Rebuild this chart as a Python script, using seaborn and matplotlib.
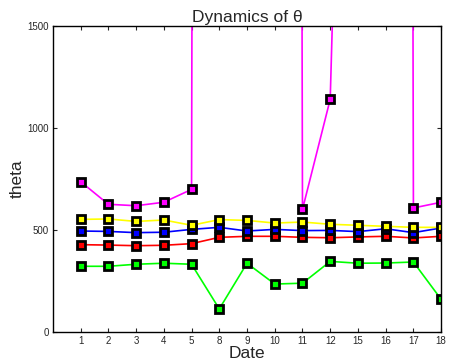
import seaborn as sns
import pandas as pd
import matplotlib.pyplot as plt

sns.set_style("white")
plt.rcParams['font.family'] = ['Liberation Sans', 'DejaVu Sans']

dates = ["1", "2", "3", "4", "5", "8", "9", "10", "11", "12", "15", "16", "17", "18"]

# magenta goes far off the top of the chart on several dates
theta_magenta = [737, 626, 619, 636, 699, 60000, 60000, 60000, 601, 1141, 6000, 60000, 608, 636]
theta_yellow = [552, 554, 542, 549, 523, 551, 547, 534, 539, 528, 523, 518, 513, 513]
theta_blue = [495, 493, 487, 489, 503, 513, 495, 503, 497, 498, 492, 506, 487, 510]
theta_red = [428, 426, 423, 425, 433, 464, 469, 469, 464, 462, 466, 469, 461, 469]
theta_green = [322, 322, 332, 337, 332, 113, 337, 235, 239, 346, 337, 338, 343, 160]

series = [
    (theta_green, "#00ff00"),
    (theta_red, "#ff0000"),
    (theta_blue, "#0000ff"),
    (theta_yellow, "#ffff00"),
    (theta_magenta, "#ff00ff"),
]

pos = list(range(1, len(dates) + 1))

fig = plt.figure(figsize=(4.6, 3.62), dpi=100)
ax = fig.add_axes([0.115, 0.083, 0.844, 0.845])

for vals, col in series:
    df = pd.DataFrame({"x": pos, "y": vals})
    sns.lineplot(data=df, x="x", y="y", color=col, marker="s", markersize=6.0,
                 markeredgecolor="black", markeredgewidth=2.0, linewidth=1.2,
                 ax=ax)

ax.set_xlim(0, 14)
ax.set_ylim(0, 1500)
ax.set_xticks(pos)
ax.set_xticklabels(dates)
ax.set_yticks([0, 500, 1000, 1500])
ax.tick_params(direction="in", length=3, width=0.8, labelsize=7,
               top=True, right=True, bottom=True, left=True, pad=3)
for s in ax.spines.values():
    s.set_color("black")
    s.set_linewidth(1.0)

ax.set_title("Dynamics of θ", fontsize=12.5, pad=3)
ax.set_xlabel("Date", fontsize=12.5, labelpad=0)
ax.set_ylabel("theta", fontsize=12.5, labelpad=2)

plt.savefig("out.png", dpi=100)
